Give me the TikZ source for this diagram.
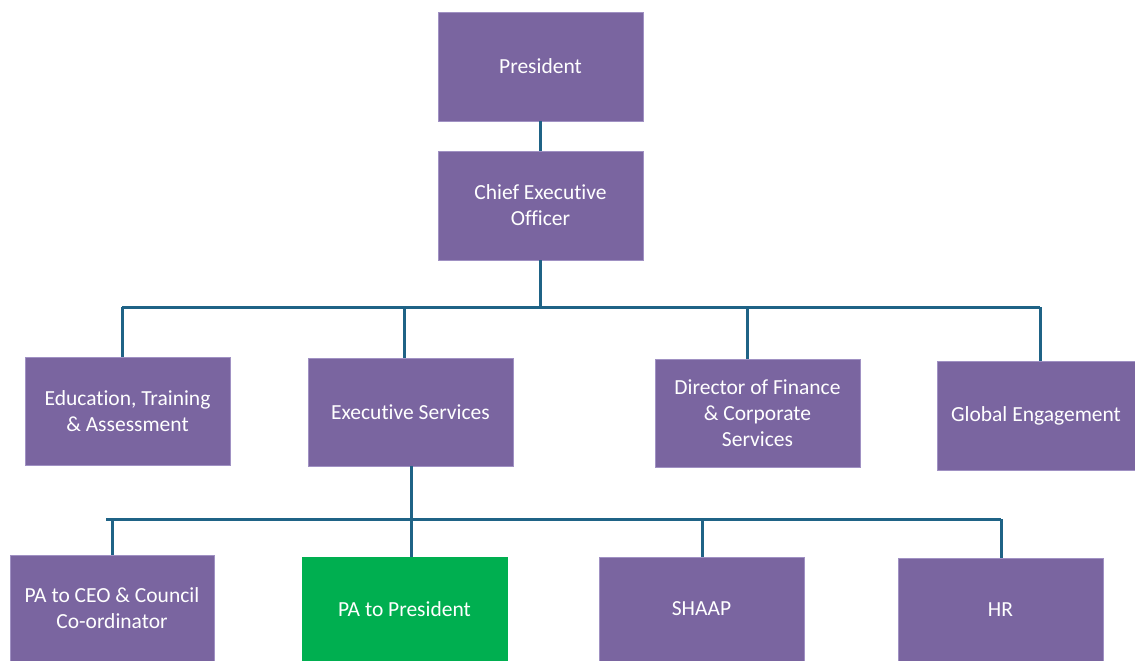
\documentclass[tikz,border=0pt]{standalone}
\usepackage{fontspec}
\setmainfont{Carlito}[Ligatures=NoCommon]
\definecolor{boxpurple}{RGB}{122,101,160}
\definecolor{boxedge}{RGB}{160,145,195}
\definecolor{boxgreen}{RGB}{0,175,80}
\definecolor{linkblue}{RGB}{31,99,134}
\begin{document}
\begin{tikzpicture}[x=1pt,y=-1pt,
  orgbox/.style={rectangle,fill=boxpurple,draw=boxedge,line width=0.8pt,inner sep=0pt,
    text=white,align=center,font=\fontsize{21.5}{26}\selectfont},
  link/.style={draw=linkblue,line width=3pt}]
\useasboundingbox (0,0) rectangle (1135,661);
\node[orgbox,minimum width=205pt,minimum height=109pt] (pres) at (540.5,66.5) {President};
\node[orgbox,minimum width=205pt,minimum height=109pt] (ceo) at (540.5,205.5) {Chief Executive\\Officer};
\node[orgbox,minimum width=205pt,minimum height=108pt] (edu) at (127.5,411) {Education, Training\\\& Assessment};
\node[orgbox,minimum width=205pt,minimum height=108pt] (exec) at (410.5,412) {Executive Services};
\node[orgbox,minimum width=205pt,minimum height=108pt] (dir) at (757.5,413) {Director of Finance\\\& Corporate\\Services};
\node[orgbox,minimum width=198pt,minimum height=109pt] (glob) at (1036,415.5) {Global Engagement};
\node[orgbox,minimum width=204pt,minimum height=106pt] (paceo) at (112,608) {PA to CEO \& Council\\Co-ordinator};
\node[orgbox,fill=boxgreen,draw=boxgreen,minimum width=205pt,minimum height=104pt] (papres) at (404.5,609) {PA to President};
\node[orgbox,minimum width=205pt,minimum height=104pt] (shaap) at (701.5,609) {SHAAP};
\node[orgbox,minimum width=205pt,minimum height=103pt] (hr) at (1000.5,609.5) {HR};
% upper bus
\coordinate (a1) at (122,307);
\coordinate (a2) at (404,307);
\coordinate (a3) at (747,307);
\coordinate (a4) at (1040,307);
% lower bus
\coordinate (b0) at (106,519);
\coordinate (b1) at (112,519);
\coordinate (b2) at (411,519);
\coordinate (b3) at (702,519);
\coordinate (b4) at (1001,519);
\draw[link] (pres.south) -- (ceo.north);
\draw[link] (ceo.south) -- (ceo.south |- a1);
\draw[link] (a1) -- (a4);
\draw[link] (a1) -- (a1 |- edu.north);
\draw[link] (a2) -- (a2 |- exec.north);
\draw[link] (a3) -- (a3 |- dir.north);
\draw[link] (a4) -- (a4 |- glob.north);
\draw[link] (b2 |- exec.south) -- (b2 |- papres.north);
\draw[link] (b0) -- (b4);
\draw[link] (b1) -- (b1 |- paceo.north);
\draw[link] (b3) -- (b3 |- shaap.north);
\draw[link] (b4) -- (b4 |- hr.north);
\end{tikzpicture}
\end{document}
